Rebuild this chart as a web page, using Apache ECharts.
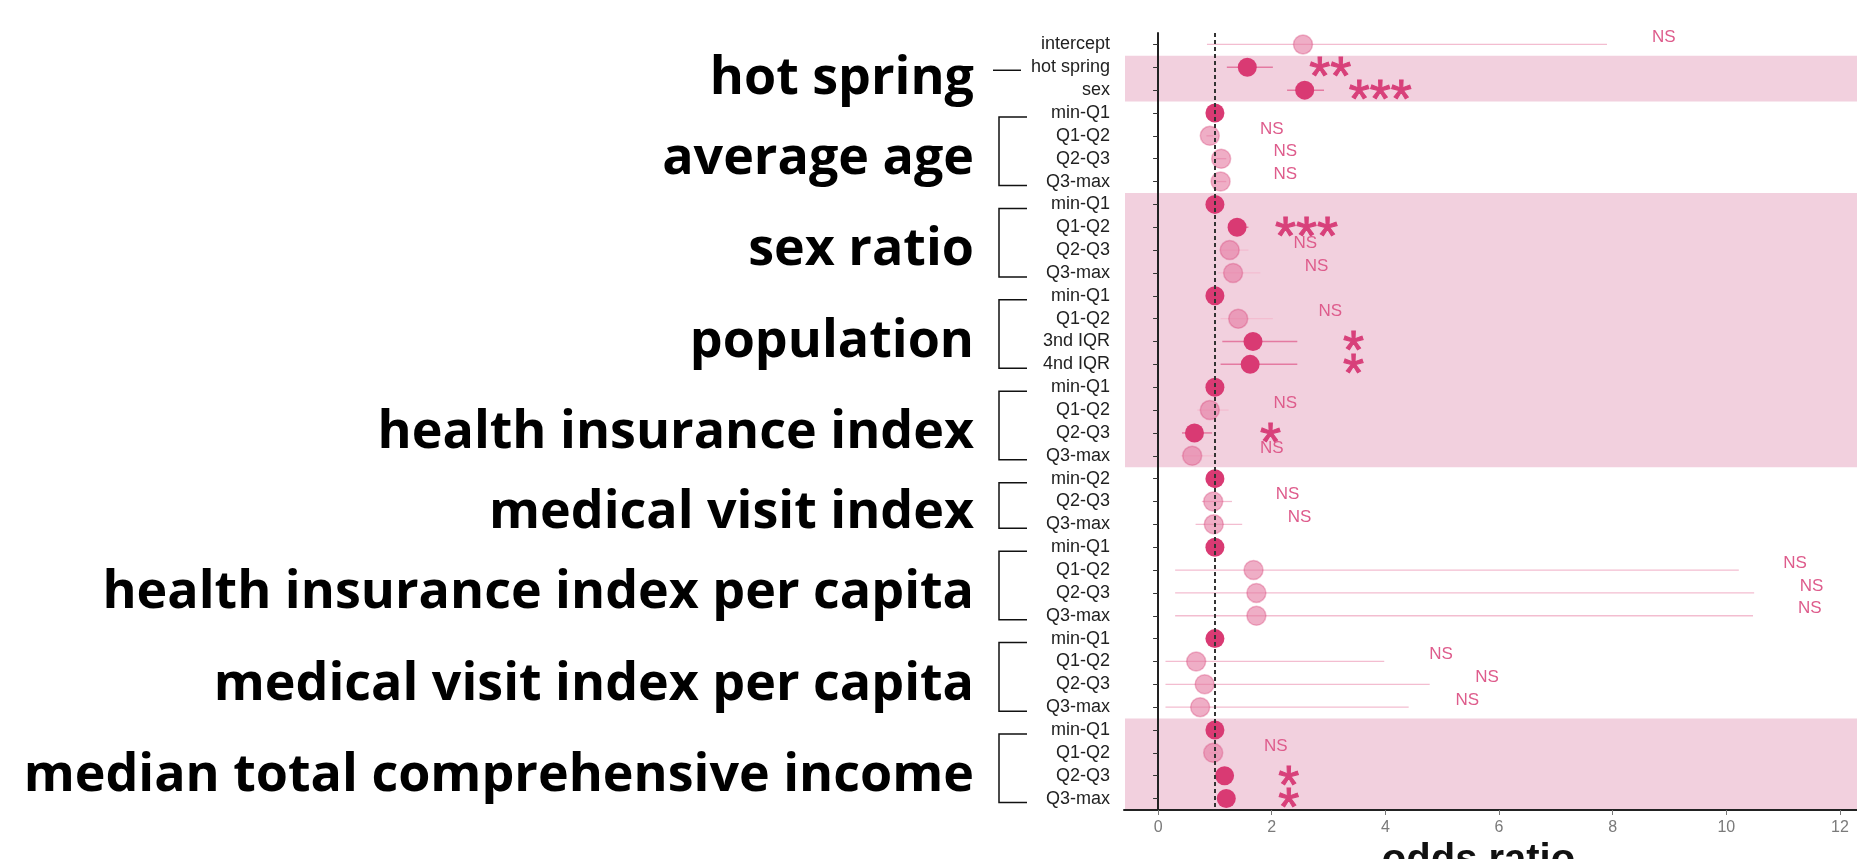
<!DOCTYPE html>
<html>
<head>
<meta charset="utf-8">
<script src="https://cdn.jsdelivr.net/npm/echarts@6/dist/echarts.min.js"></script>
<style>
html,body{margin:0;padding:0;background:#fff;}
#chart{width:1857px;height:859px;}
</style>
</head>
<body>
<div id="chart"></div>
<script>
// ---- data ----
var rowLabels = ["intercept","hot spring","sex",
  "min-Q1","Q1-Q2","Q2-Q3","Q3-max",
  "min-Q1","Q1-Q2","Q2-Q3","Q3-max",
  "min-Q1","Q1-Q2","3nd IQR","4nd IQR",
  "min-Q1","Q1-Q2","Q2-Q3","Q3-max",
  "min-Q2","Q2-Q3","Q3-max",
  "min-Q1","Q1-Q2","Q2-Q3","Q3-max",
  "min-Q1","Q1-Q2","Q2-Q3","Q3-max",
  "min-Q1","Q1-Q2","Q2-Q3","Q3-max"];
var oddsRatio = [2.55,1.57,2.58,
  1.0,0.91,1.11,1.10,
  1.0,1.39,1.26,1.32,
  1.0,1.41,1.67,1.62,
  1.0,0.91,0.64,0.60,
  1.0,0.97,0.98,
  1.0,1.68,1.73,1.73,
  1.0,0.67,0.82,0.74,
  1.0,0.97,1.17,1.20];
var ciLow = [0.86,1.21,2.27,
  null,0.85,1.02,1.00,
  null,1.24,1.10,1.05,
  null,1.10,1.13,1.10,
  null,0.69,0.42,0.40,
  null,0.77,0.66,
  null,0.30,0.30,0.30,
  null,0.13,0.13,0.13,
  null,0.90,1.08,1.10];
var ciHigh = [7.90,2.02,2.92,
  null,0.97,1.20,1.20,
  null,1.59,1.59,1.80,
  null,2.02,2.45,2.45,
  null,1.24,0.95,1.00,
  null,1.30,1.48,
  null,10.22,10.49,10.47,
  null,3.98,4.78,4.41,
  null,1.05,1.27,1.30];
var sigText = ["NS","**","***",
  "","NS","NS","NS",
  "","***","NS","NS",
  "","NS","*","*",
  "","NS","*","NS",
  "","NS","NS",
  "","NS","NS","NS",
  "","NS","NS","NS",
  "","NS","*","*"];
var sigX = [8.9,3.03,3.91,
  null,2.0,2.24,2.24,
  null,2.61,2.59,2.79,
  null,3.03,3.44,3.44,
  null,2.24,1.98,2.0,
  null,2.28,2.49,
  null,11.21,11.5,11.47,
  null,4.98,5.79,5.44,
  null,2.07,2.3,2.3];
var groupNames = ["hot spring","average age","sex ratio","population","health insurance index",
  "medical visit index","health insurance index per capita","medical visit index per capita",
  "median total comprehensive income"];
var groupStart = [1,3,7,11,15,19,22,26,30];
var groupEnd   = [1,6,10,14,18,21,25,29,33];
var bandStart = [1,7,30];
var bandEnd   = [2,18,33];
var xTicks = [0,2,4,6,8,10,12];

// ---- build ----
var DARK = '#D93A73';
var GRID_LEFT = 1124;

var darkPts = [], lightPts = [], ciData = [], sigData = [];
for (var i = 0; i < rowLabels.length; i++) {
  var isDark = sigText[i] === '' || sigText[i].indexOf('*') >= 0;
  (isDark ? darkPts : lightPts).push([oddsRatio[i], i]);
  if (ciLow[i] != null) ciData.push([ciLow[i], ciHigh[i], i, isDark ? 1 : 0]);
  if (sigText[i]) sigData.push([sigX[i], i, sigText[i]]);
}
var bandData = bandStart.map(function (s, k) { return [s, bandEnd[k]]; });
var groupData = groupNames.map(function (n, k) { return [groupStart[k], groupEnd[k], n]; });

var chart = echarts.init(document.getElementById('chart'));
chart.setOption({
  animation: false,
  backgroundColor: '#ffffff',
  grid: { left: GRID_LEFT, right: 0, top: 33, bottom: 49, containLabel: false, outerBoundsMode: 'none' },
  xAxis: {
    type: 'value', min: -0.6, max: 12.3,
    splitLine: { show: false },
    axisLine: { show: true, onZero: false, lineStyle: { color: '#222', width: 2 } },
    axisTick: { show: true, customValues: xTicks, length: 5, lineStyle: { color: '#777' } },
    axisLabel: { customValues: xTicks, color: '#7a7a7a', fontSize: 16, margin: 10, fontFamily: 'Liberation Sans' },
    name: 'odds ratio', nameLocation: 'middle', nameGap: 31,
    nameTextStyle: { fontSize: 40, fontWeight: 'bold', color: '#111', fontFamily: 'Liberation Sans', padding: [0, 24, 0, 0] }
  },
  yAxis: {
    type: 'category', inverse: true, data: rowLabels,
    axisLine: { show: true, lineStyle: { color: '#222', width: 2 } },
    axisTick: { show: true, alignWithLabel: true, length: 5, lineStyle: { color: '#333' } },
    axisLabel: { color: '#222', fontSize: 18, margin: 14, fontFamily: 'Liberation Sans', interval: 0 },
    splitLine: { show: false }
  },
  series: [
    {
      type: 'custom', name: 'bands', z: 0, silent: true,
      data: bandData,
      renderItem: function (params, api) {
        var cs = params.coordSys;
        var h = api.size([0, 1])[1];
        var y0 = api.coord([0, api.value(0)])[1] - h / 2;
        var y1 = api.coord([0, api.value(1)])[1] + h / 2;
        if (y1 > cs.y + cs.height) y1 = cs.y + cs.height;
        return { type: 'rect', shape: { x: cs.x + 1, y: y0, width: cs.width, height: y1 - y0 },
          style: { fill: '#F2D0DE' } };
      }
    },
    {
      type: 'custom', name: 'ci', z: 2, silent: true,
      data: ciData,
      renderItem: function (params, api) {
        var p0 = api.coord([api.value(0), api.value(2)]);
        var p1 = api.coord([api.value(1), api.value(2)]);
        var dark = api.value(3) === 1;
        return { type: 'line', shape: { x1: p0[0], y1: p0[1], x2: p1[0], y2: p1[1] },
          style: { stroke: dark ? '#E47AA1' : '#F3BDD0', lineWidth: dark ? 1.5 : 1.3 } };
      }
    },
    {
      type: 'scatter', name: 'light', z: 3, symbolSize: 19,
      data: lightPts,
      itemStyle: { color: 'rgba(228,120,160,0.6)', borderColor: 'rgba(214,70,120,0.35)', borderWidth: 1.5, opacity: 1 }
    },
    {
      type: 'scatter', name: 'dark', z: 4, symbolSize: 19,
      data: darkPts,
      itemStyle: { color: DARK, opacity: 1 },
      markLine: {
        silent: true, symbol: 'none', label: { show: false }, z: 6,
        lineStyle: { color: '#333', width: 2, type: [4, 3] },
        data: [{ xAxis: 1 }]
      }
    },
    {
      type: 'custom', name: 'sig', z: 7, silent: true,
      data: sigData,
      renderItem: function (params, api) {
        var p = api.coord([api.value(0), api.value(1)]);
        var t = api.value(2);
        var star = t.indexOf('*') >= 0;
        return { type: 'text', x: p[0], y: p[1] + (star ? 12 : -7),
          style: { text: t, align: 'center', verticalAlign: 'middle',
            fontFamily: 'Liberation Sans', fontSize: star ? 54 : 17,
            fill: star ? '#D8407A' : '#DE5C8C',
            stroke: star ? '#D8407A' : null, lineWidth: star ? 1 : 0 } };
      }
    },
    {
      type: 'custom', name: 'groups', z: 7, silent: true, clip: false,
      data: groupData,
      renderItem: function (params, api) {
        var yT = api.coord([0, api.value(0)])[1];
        var yB = api.coord([0, api.value(1)])[1];
        var children = [];
        if (api.value(0) === api.value(1)) {
          children.push({ type: 'line', shape: { x1: GRID_LEFT - 131, y1: yT + 3, x2: GRID_LEFT - 103, y2: yT + 3 },
            style: { stroke: '#111', lineWidth: 1.5 } });
        } else {
          children.push({ type: 'polyline', shape: { points: [[GRID_LEFT - 97, yT + 4], [GRID_LEFT - 125, yT + 4], [GRID_LEFT - 125, yB + 4], [GRID_LEFT - 97, yB + 4]] },
            style: { stroke: '#111', lineWidth: 1.5, fill: null } });
        }
        children.push({ type: 'text', x: GRID_LEFT - 150, y: (yT + yB) / 2 + 12,
          style: { text: api.value(2), align: 'right', verticalAlign: 'middle',
            fontFamily: 'Open Sans', fontWeight: 'bold', fontSize: 52, fill: '#000' } });
        return { type: 'group', children: children };
      }
    }
  ]
});
</script>
</body>
</html>
